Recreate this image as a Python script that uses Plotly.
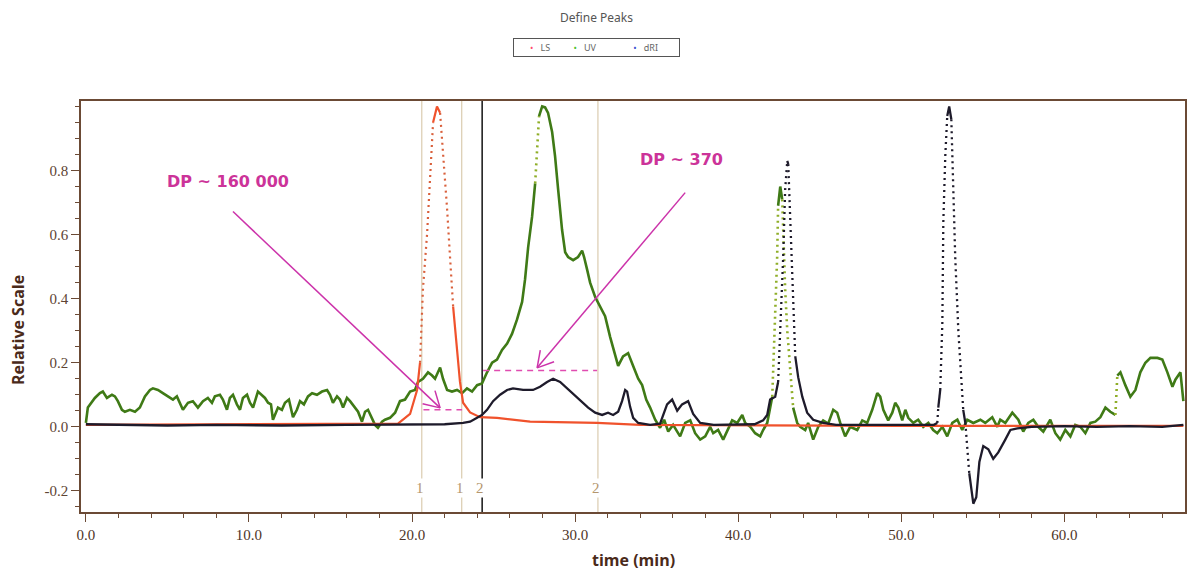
import math
import plotly.graph_objects as go

# ---------------- data (time in min, relative scale) ----------------
ls_time = [0.0, 5.0, 10.0, 15.0, 18.0, 19.14, 19.88, 20.31, 20.49, 20.67, 20.92, 21.10, 21.29, 21.53,
           21.72, 21.90, 22.15, 22.33, 22.52, 22.76, 22.94, 23.13, 23.56, 24.17, 25.21, 27.24, 31.35,
           33.99, 40.0, 50.0, 60.0, 67.3]
ls_value = [0.006, 0.007, 0.006, 0.008, 0.008, 0.01, 0.04, 0.115, 0.20, 0.43, 0.60, 0.79, 0.95, 1.0,
            0.98, 0.86, 0.68, 0.53, 0.375, 0.24, 0.14, 0.075, 0.045, 0.03, 0.028, 0.016, 0.012,
            0.006, 0.004, 0.003, 0.003, 0.003]

uv_time = [0.0, 0.12, 0.55, 0.86, 1.04, 1.29, 1.60, 1.78, 1.96, 2.21, 2.39, 2.70, 3.01, 3.31, 3.62, 3.93,
           4.11, 4.42, 4.72, 5.03, 5.34, 5.58, 5.77, 5.95, 6.26, 6.56, 6.87, 7.18, 7.48, 7.73, 7.91, 8.22,
           8.40, 8.65, 8.83, 9.02, 9.26, 9.45, 9.63, 9.88, 10.06, 10.25, 10.55, 10.80, 10.98, 11.17, 11.35,
           11.47, 11.60, 11.78, 12.02, 12.21, 12.45, 12.70, 12.94, 13.13, 13.37, 13.62, 13.87, 14.17, 14.48,
           14.79, 14.97, 15.15, 15.40, 15.58, 15.77, 16.01, 16.20, 16.50, 16.69, 16.93, 17.12, 17.30, 17.55,
           17.73, 17.91, 18.16, 18.34, 18.65, 18.96, 19.26, 19.57, 19.88, 20.18, 20.37, 20.67, 20.98, 21.23,
           21.41, 21.72, 21.90, 22.15, 22.45, 22.76, 23.07, 23.37, 23.68, 23.99, 24.29, 24.60, 24.91, 25.21,
           25.52, 25.83, 26.13, 26.44, 26.75, 26.93, 27.12, 27.36, 27.55, 27.67, 27.79, 27.98, 28.16, 28.34,
           28.59, 28.77, 28.96, 29.20, 29.39, 29.57, 29.88, 30.18, 30.43, 30.55, 30.74, 30.92, 31.23, 31.53,
           31.84, 32.15, 32.45, 32.64, 32.94, 33.25, 33.56, 33.87, 34.11, 34.36, 34.60, 34.91, 35.21, 35.46,
           35.71, 36.01, 36.26, 36.44, 36.75, 37.06, 37.36, 37.67, 37.98, 38.28, 38.47, 38.77, 39.08, 39.33,
           39.63, 39.94, 40.25, 40.43, 40.74, 41.04, 41.35, 41.53, 41.78, 42.09, 42.27, 42.39, 42.45, 42.58,
           42.70, 42.76, 42.88, 43.01, 43.19, 43.37, 43.62, 43.80, 44.11, 44.29, 44.60, 44.91, 45.21, 45.52,
           45.83, 46.07, 46.26, 46.56, 46.87, 47.30, 47.61, 47.91, 48.22, 48.53, 48.71, 48.90, 49.20, 49.45,
           49.63, 49.82, 50.06, 50.25, 50.43, 50.74, 51.04, 51.35, 51.66, 51.96, 52.21, 52.52, 52.82, 53.13,
           53.44, 53.74, 54.05, 54.42, 54.85, 55.15, 55.58, 55.89, 56.07, 56.38, 56.81, 57.18, 57.48, 57.79,
           58.10, 58.40, 58.71, 59.14, 59.45, 59.75, 60.06, 60.37, 60.67, 60.98, 61.29, 61.60, 61.90, 62.21,
           62.52, 62.82, 63.13, 63.25, 63.44, 63.74, 64.05, 64.36, 64.66, 64.97, 65.28, 65.71, 66.01, 66.32,
           66.63, 66.81, 67.12, 67.30]
uv_value = [0.012, 0.06, 0.09, 0.105, 0.11, 0.09, 0.10, 0.095, 0.08, 0.053, 0.047, 0.053, 0.047, 0.06, 0.095,
            0.115, 0.12, 0.115, 0.105, 0.095, 0.085, 0.095, 0.075, 0.053, 0.075, 0.08, 0.06, 0.08, 0.09,
            0.075, 0.095, 0.10, 0.085, 0.053, 0.09, 0.10, 0.07, 0.053, 0.09, 0.10, 0.075, 0.06, 0.11, 0.10,
            0.09, 0.075, 0.07, 0.022, 0.037, 0.06, 0.053, 0.075, 0.085, 0.03, 0.053, 0.08, 0.07, 0.095,
            0.105, 0.10, 0.11, 0.115, 0.10, 0.075, 0.095, 0.085, 0.06, 0.09, 0.08, 0.06, 0.047, 0.016, 0.047,
            0.053, 0.028, 0.006, -0.003, 0.016, 0.022, 0.028, 0.044, 0.08, 0.085, 0.11, 0.115, 0.14, 0.15,
            0.17, 0.16, 0.15, 0.185, 0.15, 0.115, 0.11, 0.115, 0.105, 0.12, 0.11, 0.13, 0.135, 0.17, 0.20,
            0.21, 0.24, 0.26, 0.29, 0.335, 0.39, 0.46, 0.56, 0.655, 0.76, 0.865, 0.97, 1.0, 0.997, 0.98,
            0.92, 0.845, 0.74, 0.615, 0.545, 0.53, 0.52, 0.53, 0.55, 0.53, 0.49, 0.45, 0.405, 0.375, 0.345,
            0.28, 0.22, 0.19, 0.22, 0.23, 0.19, 0.15, 0.13, 0.085, 0.06, 0.022, -0.003, 0.022, -0.015, 0.006,
            -0.015, -0.03, 0.012, 0.02, -0.02, -0.04, -0.03, 0.0, -0.02, -0.01, -0.04, -0.01, 0.02, 0.012,
            0.037, 0.012, 0.0, -0.02, -0.03, -0.01, 0.012, 0.094, 0.325, 0.53, 0.69, 0.75, 0.71, 0.585, 0.43,
            0.30, 0.17, 0.06, 0.012, 0.0, -0.01, 0.012, -0.04, 0.0, 0.02, 0.01, 0.053, 0.044, 0.012, -0.03,
            0.0, -0.01, 0.02, 0.012, 0.053, 0.105, 0.094, 0.053, 0.02, 0.044, 0.075, 0.06, 0.02, 0.053, 0.028,
            0.012, 0.022, 0.0, 0.012, -0.01, -0.02, 0.0, -0.03, 0.012, 0.022, -0.01, 0.022, 0.012, 0.022,
            0.012, 0.03, 0.0, 0.022, 0.012, 0.044, 0.022, -0.015, 0.012, 0.022, 0.0, -0.015, 0.022, -0.02,
            -0.04, -0.01, -0.03, 0.006, 0.0, -0.02, 0.012, 0.016, 0.03, 0.06, 0.047, 0.037, 0.16, 0.17, 0.13,
            0.094, 0.115, 0.17, 0.20, 0.215, 0.215, 0.21, 0.17, 0.125, 0.147, 0.17, 0.08]

dri_time = [0.0, 2.0, 5.0, 8.0, 12.0, 16.0, 20.0, 22.0, 23.13, 23.56, 23.99, 24.29, 24.60, 24.97, 25.40,
            25.83, 26.19, 26.81, 27.42, 27.85, 28.28, 28.65, 29.08, 29.51, 29.88, 30.31, 30.80, 31.23,
            31.66, 32.02, 32.33, 32.64, 32.88, 33.07, 33.19, 33.37, 33.56, 33.87, 34.60, 35.21, 35.64,
            35.95, 36.26, 36.56, 36.93, 37.24, 37.67, 38.5, 40.0, 41.0, 41.53, 41.78, 41.96, 42.27, 42.45,
            42.76, 42.88, 43.01, 43.07, 43.19, 43.37, 43.50, 43.68, 43.93, 44.23, 44.60, 45.21, 46.0, 50.0,
            52.0, 52.21, 52.27, 52.39, 52.52, 52.58, 52.70, 52.82, 52.94, 53.07, 53.19, 53.31, 53.50, 53.74,
            53.80, 53.93, 54.05, 54.17, 54.42, 54.60, 54.79, 55.03, 55.34, 55.64, 55.95, 56.38, 56.69, 57.12,
            58.0, 60.0, 62.0, 64.0, 66.0, 67.3]
dri_value = [0.008, 0.006, 0.004, 0.006, 0.004, 0.006, 0.006, 0.008, 0.012, 0.016, 0.028, 0.037, 0.053,
             0.08, 0.10, 0.115, 0.12, 0.115, 0.115, 0.125, 0.14, 0.15, 0.14, 0.12, 0.10, 0.08, 0.06, 0.044,
             0.037, 0.044, 0.037, 0.047, 0.08, 0.115, 0.11, 0.063, 0.028, 0.012, 0.006, 0.01, 0.07, 0.085,
             0.05, 0.07, 0.08, 0.04, 0.012, 0.006, 0.006, 0.008, 0.02, 0.037, 0.085, 0.094, 0.14, 0.53, 0.74,
             0.83, 0.82, 0.64, 0.43, 0.22, 0.155, 0.094, 0.044, 0.022, 0.012, 0.006, 0.005, 0.006, 0.012,
             0.06, 0.115, 0.325, 0.64, 0.845, 0.97, 1.0, 0.96, 0.74, 0.53, 0.30, 0.12, 0.053, 0.012, -0.07,
             -0.145, -0.24, -0.22, -0.11, -0.06, -0.07, -0.10, -0.08, -0.04, -0.01, -0.005, 0.0, 0.002, 0.0,
             0.002, 0.0, 0.006]

# peak boundaries (min) and their labels
bound_time = [20.6, 23.05, 24.3, 31.4]
bound_label = ["1", "1", "2", "2"]
bound_is_main = [False, False, True, False]

# DP annotations
dp_text = ["DP ~ 160 000", "DP ~ 370"]
dp_text_t = [8.71, 36.5]
dp_text_v = [0.766, 0.834]
dp_tail_t = [9.02, 36.75]
dp_tail_v = [0.672, 0.731]
dp_head_t = [21.72, 27.67]
dp_head_v = [0.059, 0.184]
dp_level_t0 = [20.7, 24.36]
dp_level_t1 = [23.07, 31.35]
dp_level_v = [0.053, 0.176]

series_names = ["LS", "UV", "dRI"]
legend_dot_colors = ["#ff4d6d", "#4cbf2a", "#3a4fd0"]

# ---------------- layout geometry ----------------
W, H = 1187, 571
M = dict(l=81, r=2, t=101, b=59)
x_range = [-0.3, 67.4]
y_range = [-0.266, 1.017]
px_per_x = (W - M["l"] - M["r"]) / (x_range[1] - x_range[0])
px_per_y = (H - M["t"] - M["b"]) / (y_range[1] - y_range[0])


def runs(t, v, thr=0.6):
    """Split a series into consecutive runs of gentle (solid) and steep (dotted) segments."""
    out = []
    cur_kind, cur_t, cur_v = None, [], []
    for i in range(len(t) - 1):
        steep = abs((v[i + 1] - v[i]) / (t[i + 1] - t[i])) > thr
        if steep != cur_kind:
            if cur_t:
                out.append((cur_kind, cur_t, cur_v))
            cur_kind, cur_t, cur_v = steep, [t[i]], [v[i]]
        cur_t.append(t[i + 1])
        cur_v.append(v[i + 1])
    if cur_t:
        out.append((cur_kind, cur_t, cur_v))
    return out


fig = go.Figure()

styles = {
    "UV": (uv_time, uv_value, "#3f7a16", "#8fae28", 2.6),
    "LS": (ls_time, ls_value, "#f0522c", "#d9603c", 2.2),
    "dRI": (dri_time, dri_value, "#1e1b2b", "#1e1b2b", 2.3),
}
for name in ["UV", "LS", "dRI"]:
    t, v, solid_c, dot_c, w = styles[name]
    for steep, rt, rv in runs(t, v):
        fig.add_trace(go.Scatter(
            x=rt, y=rv, mode="lines", name=name, showlegend=False, hoverinfo="skip",
            line=dict(color=dot_c if steep else solid_c, width=w,
                      dash="2px,4px" if steep else "solid"),
        ))

shapes = []
annotations = []
for bt, lab, main in zip(bound_time, bound_label, bound_is_main):
    shapes.append(dict(type="line", xref="x", yref="paper", x0=bt, x1=bt, y0=0, y1=1,
                       line=dict(color="#222222" if main else "#d3c19f", width=1.6 if main else 1),
                       layer="below"))
    annotations.append(dict(x=bt, y=-0.19, xref="x", yref="y", text=lab, showarrow=False,
                            xshift=-2, bgcolor="white",
                            font=dict(family="Liberation Serif", size=15, color="#b4966e")))

for t0, t1, lv in zip(dp_level_t0, dp_level_t1, dp_level_v):
    shapes.append(dict(type="line", xref="x", yref="y", x0=t0, x1=t1, y0=lv, y1=lv,
                       line=dict(color="#e04cb0", width=1.5, dash="6px,5px")))

arrow_col = "#cc33aa"
for txt, tx, tv, at, av, ht, hv in zip(dp_text, dp_text_t, dp_text_v, dp_tail_t, dp_tail_v,
                                        dp_head_t, dp_head_v):
    annotations.append(dict(x=tx, y=tv, xref="x", yref="y", text="<b>%s</b>" % txt, showarrow=False,
                            font=dict(family="DejaVu Sans", size=16, color="#cc3399")))
    shapes.append(dict(type="line", xref="x", yref="y", x0=at, y0=av, x1=ht, y1=hv,
                       line=dict(color=arrow_col, width=1.5)))
    # open V arrowhead, built in pixel space
    dx = (at - ht) * px_per_x
    dy = (av - hv) * px_per_y
    n = math.hypot(dx, dy)
    ux, uy = dx / n, dy / n
    for ang in (math.radians(30), math.radians(-30)):
        rx = ux * math.cos(ang) - uy * math.sin(ang)
        ry = ux * math.sin(ang) + uy * math.cos(ang)
        shapes.append(dict(type="line", xref="x", yref="y", x0=ht, y0=hv,
                           x1=ht + 18 * rx / px_per_x, y1=hv + 18 * ry / px_per_y,
                           line=dict(color=arrow_col, width=1.5)))

# title and legend box
annotations.append(dict(x=0.467, y=1.202, xref="paper", yref="paper", yanchor="middle",
                        text="Define Peaks", showarrow=False,
                        font=dict(family="Noto Sans", size=12, color="#555555")))
legend_html = "&nbsp;" * 6 + "".join(
    "<span style='color:%s'>•</span>&nbsp;&nbsp;&nbsp;%s%s" % (c, n, pad)
    for c, n, pad in zip(legend_dot_colors, series_names,
                         ["&nbsp;" * 10, "&nbsp;" * 16, "&nbsp;" * 8]))
annotations.append(dict(x=0.467, y=1.153, xref="paper", yref="paper", yanchor="top",
                        text=legend_html, showarrow=False, bordercolor="#555555", borderwidth=1,
                        borderpad=2, bgcolor="white",
                        font=dict(family="Noto Sans", size=9, color="#666666")))

# axis titles
annotations.append(dict(x=-0.057, y=0.443, xref="paper", yref="paper", xanchor="center",
                        yanchor="middle", text="<b>Relative Scale</b>", textangle=-90, showarrow=False,
                        font=dict(family="Open Sans", size=16, color="#4a2a1a")))
annotations.append(dict(x=0.5, y=-0.116, xref="paper", yref="paper", xanchor="center",
                        yanchor="middle", text="<b>time (min)</b>",
                        showarrow=False, font=dict(family="Open Sans", size=16, color="#4a2a1a")))

axis_col = "#6b4a35"
fig.update_layout(
    width=W, height=H,
    margin=M,
    plot_bgcolor="white", paper_bgcolor="white",
    showlegend=False,
    shapes=shapes, annotations=annotations,
    xaxis=dict(range=x_range, tick0=0, dtick=10, tickformat=".1f", ticks="outside", ticklen=8,
               tickcolor=axis_col, showline=True, linecolor=axis_col, linewidth=1.5, mirror=True,
               showgrid=False, zeroline=False, automargin=False,
               tickfont=dict(family="Liberation Serif", size=15, color="#4e3426"),
               minor=dict(dtick=2, ticks="outside", ticklen=4, tickcolor=axis_col)),
    yaxis=dict(range=y_range, tickmode="array", tickvals=[-0.2, 0.0, 0.2, 0.4, 0.6, 0.8],
               ticktext=["-0.2", "0.0", "0.2", "0.4", "0.6", "0.8"], ticks="outside", ticklen=8,
               tickcolor=axis_col, showline=True, linecolor=axis_col, linewidth=1.5, mirror=True,
               showgrid=False, zeroline=False, automargin=False,
               tickfont=dict(family="Liberation Serif", size=15, color="#5e4434"),
               minor=dict(tick0=0, dtick=0.05, ticks="outside", ticklen=4, tickcolor=axis_col)),
)

fig.write_html("out.html", config={"displayModeBar": False},
               post_script="document.body.style.margin='0';")
